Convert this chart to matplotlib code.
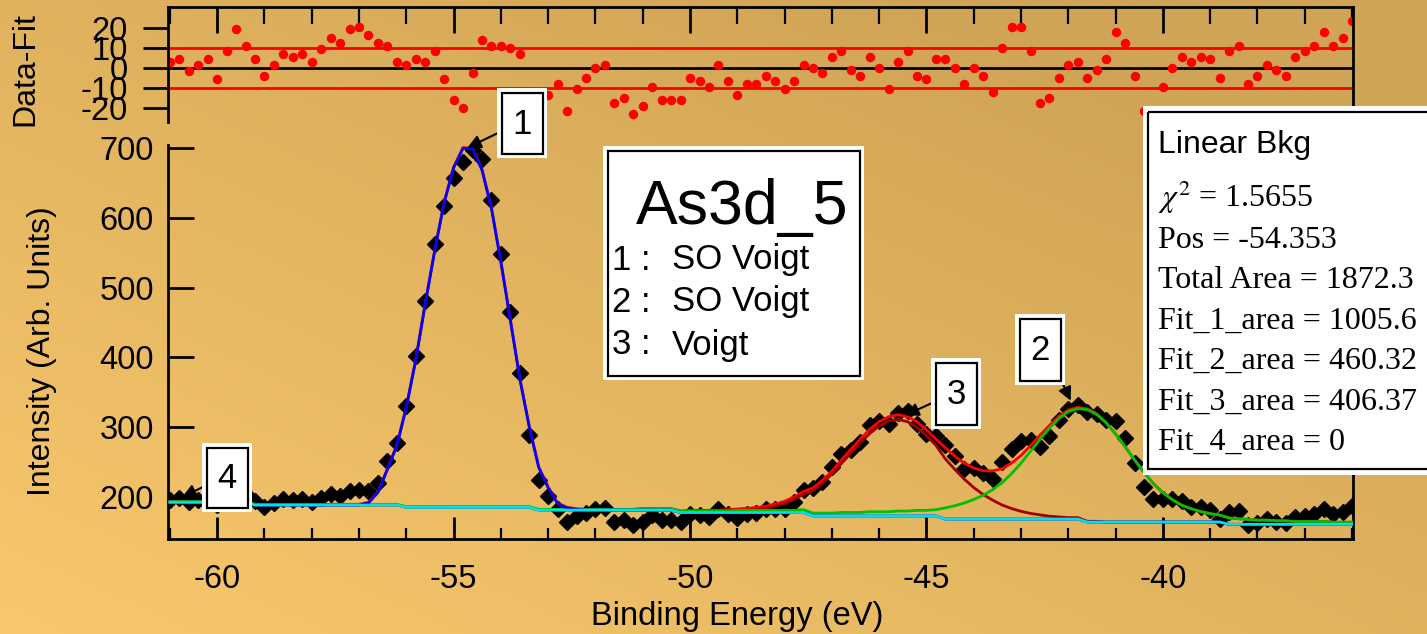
import numpy as np
import matplotlib.pyplot as plt
from matplotlib.patches import Rectangle
from matplotlib.ticker import MultipleLocator

plt.rcParams['font.family'] = ['Liberation Sans', 'DejaVu Sans']
plt.rcParams['mathtext.fontset'] = 'stix'
plt.rcParams['axes.unicode_minus'] = False

# binding energy grid (eV), 0.2 eV steps from -61 to -36
energy = np.round(np.arange(-61.0, -35.9, 0.2), 1)

# measured intensity (black diamonds)
intensity = [
    196.5, 198.0, 192.3, 195.2, 198.0, 188.3, 202.0, 213.0, 204.8, 194.1,
    185.8, 191.3, 196.8, 195.4, 196.8, 192.6, 199.4, 204.9, 202.2, 209.1,
    210.4, 209.2, 220.2, 251.9, 277.6, 331.0, 401.8, 480.3, 561.8, 617.1,
    656.5, 680.3, 697.0, 683.3, 625.6, 548.6, 464.3, 377.5, 289.3, 224.4,
    201.0, 183.6, 164.0, 172.9, 177.4, 182.7, 184.0, 165.0, 167.7, 159.5,
    164.7, 174.2, 167.4, 167.4, 164.0, 176.0, 174.5, 171.8, 182.6, 175.5,
    169.6, 176.1, 177.1, 183.1, 183.5, 183.5, 193.5, 209.6, 213.3, 221.6,
    242.8, 261.5, 267.0, 279.2, 302.8, 308.3, 304.5, 321.0, 323.5, 304.2,
    290.8, 287.5, 275.1, 258.9, 240.8, 241.9, 233.8, 225.8, 250.6, 269.4,
    280.4, 282.3, 271.3, 287.9, 310.6, 326.3, 331.6, 321.3, 318.3, 310.8,
    308.3, 285.0, 249.5, 214.0, 197.3, 197.1, 196.6, 194.1, 186.3, 185.1,
    180.8, 169.3, 178.5, 180.3, 160.2, 163.2, 168.7, 165.0, 162.2, 170.8,
    173.5, 176.3, 183.0, 175.3, 179.3, 187.5,
]

# data - fit (red dots in the top panel)
residual = [
    3.0, 4.5, -1.2, 1.7, 4.5, -5.2, 8.5, 19.5, 11.3, 4.5,
    -3.9, 1.7, 7.2, 5.8, 7.2, 3.0, 9.8, 15.3, 12.6, 19.5,
    20.8, 16.6, 12.6, 11.3, 3.0, 1.7, 4.5, 3.0, 8.5, -5.2,
    -15.8, -20.0, -2.4, 14.0, 11.3, 11.3, 10.0, 7.2, -12.0, -19.0,
    -13.4, -7.9, -21.4, -10.5, -5.0, 0.3, 1.7, -17.4, -14.7, -22.9,
    -18.7, -9.2, -16.0, -16.0, -16.0, -5.0, -6.5, -9.2, 1.7, -6.5,
    -13.4, -7.9, -7.9, -3.9, -6.5, -10.5, -6.5, 1.7, 0.3, -2.4,
    5.8, 8.5, -1.0, -3.9, 5.8, 0.3, -10.5, 3.0, 8.5, -3.9,
    -5.2, 4.5, 4.5, 0.3, -7.9, 0.3, -3.9, -11.9, 10.0, 20.8,
    20.8, 8.7, -17.4, -14.7, -5.0, 1.7, 3.0, -5.0, -1.0, 4.5,
    18.0, 12.7, -3.9, -21.4, -22.0, -9.2, 0.3, 5.8, 3.0, 5.8,
    4.5, -5.0, 8.5, 11.3, -7.9, -3.9, 1.7, -1.0, -3.9, 5.8,
    8.5, 11.3, 18.0, 11.3, 15.3, 23.5,
]

# stepped background (cyan, component 4)
background = (
    [192.5] * 9 + [188.6] * 16 + [185.3] * 14 + [181.4] * 15 + [178.0] * 14
    + [173.0] * 14 + [168.6] * 15 + [164.3] * 15 + [161.0] * 14
)

# peak components above background
peak1 = [0] * 21 + [
    3, 18, 51, 85, 143, 211, 291, 367, 436, 486, 514, 513,
    483, 428, 351, 268, 184, 115, 61, 32, 9, 3, 1,
] + [0] * 82

peak2 = [1] * 50 + [2] * 10 + [3] * 7 + [4] * 4 + [5] * 3 + [6] * 3 + [7] * 2 + [8] * 2 + [9] + [
    16, 19, 23, 28, 34, 42, 52, 65, 80, 97,
    114, 130, 144, 154, 158, 161, 154, 142, 126, 108,
    89, 71, 55, 42, 32, 24, 19, 15, 12, 10,
    9, 8, 7, 6, 6, 5, 5, 4, 4, 4,
    4, 3, 3, 3,
]

peak3 = [0] * 55 + [
    1, 1, 1, 1, 2, 2, 3, 4, 6, 9,
    13, 19, 26, 36, 47, 60, 75, 90, 105, 118,
    129, 136, 138, 135, 127, 115, 101, 86, 71, 57,
    45, 35, 27, 20, 15, 11, 8, 6, 4, 3,
    2, 2, 1, 1,
] + [0] * 27

bkg = np.array(background)
p1 = np.array(peak1)
p2 = np.array(peak2)
p3 = np.array(peak3)
total = bkg + p1 + p2 + p3

W, H = 1427, 634
fig = plt.figure(figsize=(W / 100, H / 100), dpi=100)

# orange gradient background
bg = fig.add_axes([0, 0, 1, 1], zorder=-5)
gy, gx = np.mgrid[0:1:64j, 0:1:143j]
t = np.clip(0.6 * gx + 0.6 * (1 - gy), 0, 1)
light = np.array([248, 200, 108]) / 255
dark = np.array([208, 164, 86]) / 255
bg.imshow(light + (dark - light) * t[..., None], aspect='auto',
          extent=[0, 1, 0, 1], interpolation='bilinear')
bg.axis('off')

L, R = 168, 1353
ax = fig.add_axes([L / W, 1 - 539 / H, (R - L) / W, (539 - 145) / H])
axr = fig.add_axes([L / W, 1 - 122 / H, (R - L) / W, (122 - 7) / H])
for a in (ax, axr):
    a.set_facecolor('none')
    a.set_xlim(-61.04, -35.98)
    for s in a.spines.values():
        s.set_linewidth(2)

# ---- main panel
ax.plot(energy, intensity, 'D', color='black', ms=8.5, zorder=2)
ax.plot(energy, total, color='#ff0000', lw=2, zorder=3)
ax.plot(energy, bkg + p3, color='#a00000', lw=2, zorder=3.1)
ax.plot(energy, bkg + p2, color='#00c000', lw=2, zorder=3.2)
ax.plot(energy, bkg + p1, color='#0000ff', lw=2, zorder=3.3)
ax.plot(energy, bkg, color='#00e0e8', lw=2, zorder=3.4)

ax.set_ylim(140, 704)
ax.spines['top'].set_visible(False)
ax.xaxis.set_major_locator(MultipleLocator(5))
ax.xaxis.set_minor_locator(MultipleLocator(1))
ax.tick_params(axis='x', which='major', direction='in', length=16, width=2,
               labelsize=23.5, pad=18)
ax.tick_params(axis='x', which='minor', direction='in', length=8, width=1.6)
ax.tick_params(axis='y', which='major', direction='in', length=19, width=2,
               labelsize=23.5, pad=10)
ax.set_yticks([200, 300, 400, 500, 600, 700])

# ---- residual panel
axr.axhline(0, color='black', lw=2, zorder=1)
axr.axhline(10, color='#ff0000', lw=2, zorder=1)
axr.axhline(-10, color='#ff0000', lw=2, zorder=1)
axr.plot(energy, residual, 'o', color='#ff0000', ms=5.8, zorder=2)
axr.set_ylim(-26.85, 30.65)
axr.spines['bottom'].set_visible(False)
axr.xaxis.set_major_locator(MultipleLocator(5))
axr.xaxis.set_minor_locator(MultipleLocator(1))
axr.xaxis.tick_top()
axr.tick_params(axis='x', which='major', direction='in', length=19, width=2,
                labeltop=False, labelbottom=False)
axr.tick_params(axis='x', which='minor', direction='in', length=12, width=1.6)
axr.set_yticks([-20, -10, 0, 10, 20])
axr.tick_params(axis='y', direction='out', length=18, width=2, labelsize=23.5, pad=11)

fig.text(42 / W, 1 - 351 / H, 'Intensity (Arb. Units)', rotation=90,
         ha='center', va='center', fontsize=23)
fig.text(25 / W, 1 - 69 / H, 'Data-Fit', rotation=90,
         ha='center', va='center', fontsize=23)
fig.text(737 / W, 1 - 617 / H, 'Binding Energy (eV)',
         ha='center', va='center', fontsize=23.5)

# ---- annotation arrows (drawn in data space of the main panel)
arrow = dict(arrowstyle='-|>', color='black', lw=1.5, mutation_scale=20,
             shrinkA=0, shrinkB=0)
for tip, tail in [((-54.71, 700), (498, 133)),
                  ((-41.95, 338), (1062, 382)),
                  ((-45.45, 317), (932, 403)),
                  ((-60.74, 200), (203, 487))]:
    ax.annotate('', xy=tip, xytext=(tail[0], H - tail[1]),
                textcoords='figure pixels', arrowprops=arrow, zorder=5)

# ---- overlay for boxes, pixel coordinates
ov = fig.add_axes([0, 0, 1, 1], zorder=10)
ov.set_xlim(0, W)
ov.set_ylim(H, 0)
ov.axis('off')


def frame(x0, y0, x1, y1, inset=4.5):
    ov.add_patch(Rectangle((x0, y0), x1 - x0, y1 - y0, facecolor='white',
                           edgecolor='none'))
    ov.add_patch(Rectangle((x0 + inset, y0 + inset), x1 - x0 - 2 * inset,
                           y1 - y0 - 2 * inset, facecolor='none',
                           edgecolor='black', lw=1.6))


for label, (x0, y0, x1, y1) in [('1', (497, 88, 547, 158)),
                                ('2', (1015, 314, 1065, 385)),
                                ('3', (931, 358, 981, 429)),
                                ('4', (202, 443, 252, 512))]:
    frame(x0, y0, x1, y1)
    ov.text((x0 + x1) / 2, (y0 + y1) / 2 + 1, label, ha='center', va='center',
            fontsize=25)

# legend box
frame(603, 146, 864, 380)
ov.text(636, 224, 'As3d_5', fontsize=45, va='baseline')
for y, num, name in [(260, '1 :', 'SO Voigt'), (302, '2 :', 'SO Voigt'),
                     (345, '3 :', 'Voigt')]:
    ov.text(612, y, num, fontsize=25, va='center')
    ov.text(672, y, name, fontsize=25, va='center')

# fit statistics box
ov.add_patch(Rectangle((1143, 106), 300, 369, facecolor='white', edgecolor='none'))
ov.add_patch(Rectangle((1148, 112), 300, 357, facecolor='none',
                       edgecolor='black', lw=1.6))
ov.text(1158, 153, 'Linear Bkg', fontsize=23, va='baseline')
stats = [r'$\chi^{2}$ = 1.5655', 'Pos = -54.353', 'Total Area = 1872.3',
         'Fit_1_area = 1005.6', 'Fit_2_area = 460.32', 'Fit_3_area = 406.37',
         'Fit_4_area = 0']
for i, s in enumerate(stats):
    ov.text(1158, 207 + 40.5 * i, s, fontsize=23, va='baseline',
            family=['Liberation Serif', 'DejaVu Serif'])

fig.savefig('out.png', dpi=100)
